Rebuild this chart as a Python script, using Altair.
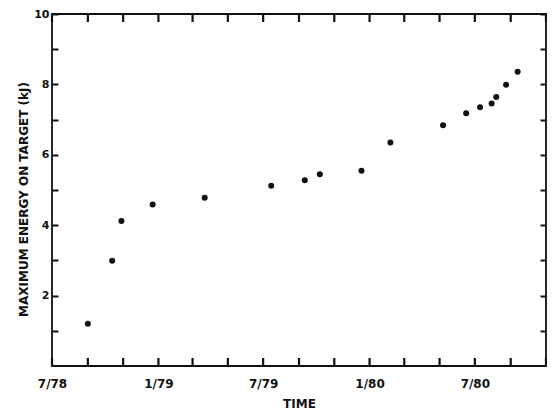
import altair as alt
import pandas as pd

# Data
dates = ["1978-09-01", "1978-10-13", "1978-10-29", "1978-12-22", "1979-03-22",
         "1979-07-15", "1979-09-11", "1979-10-07", "1979-12-18", "1980-02-06",
         "1980-05-07", "1980-06-16", "1980-07-10", "1980-07-30", "1980-08-07",
         "1980-08-24", "1980-09-13"]
energy = [1.20, 2.99, 4.12, 4.59, 4.78, 5.12, 5.28, 5.45, 5.55, 6.35,
          6.84, 7.18, 7.35, 7.46, 7.64, 7.99, 8.36]

x_tick_dates = ["1978-07-01", "1978-09-01", "1978-11-01", "1979-01-01", "1979-03-01",
                "1979-05-01", "1979-07-01", "1979-09-01", "1979-11-01", "1980-01-01",
                "1980-03-01", "1980-05-01", "1980-07-01", "1980-09-01", "1980-11-01"]
y_ticks = [1, 2, 3, 4, 5, 6, 7, 8, 9, 10]

df = pd.DataFrame({"date": dates, "energy": energy})
tick_df = pd.DataFrame({"tick": x_tick_dates})


def to_dt(s):
    y, m, d = (int(v) for v in s.split("-"))
    return alt.DateTime(year=y, month=m, date=d, utc=True)


x_vals = [to_dt(s) for s in x_tick_dates]
x_dom = [x_vals[0], x_vals[-1]]

W, H = 494, 352
TICK = 6
XTICK = 8
FONT = "DejaVu Sans"
INK = "#111111"

x_scale = alt.Scale(type="utc", domain=x_dom)
y_scale = alt.Scale(domain=[0, 10], nice=False, zero=False)

x_label_expr = ("utcmonth(datum.value) % 6 == 0 ? (utcmonth(datum.value) + 1) + '/' + "
                "substring(toString(utcyear(datum.value)), 2) : ''")

tick_axis = dict(grid=False, domain=False, labels=False, title=None, tickColor=INK,
                 tickWidth=2, tickSize=TICK)

base = alt.Chart(df)

# x ticks drawn as short inward rules at the tick dates (bottom and top edges)
xticks_bottom = alt.Chart(tick_df).mark_rule(color=INK, strokeWidth=2.2).encode(
    x=alt.X("tick:T", scale=x_scale, axis=None),
    y=alt.value(H), y2=alt.value(H - XTICK),
)
xticks_top = alt.Chart(tick_df).mark_rule(color=INK, strokeWidth=2.2).encode(
    x=alt.X("tick:T", scale=x_scale, axis=None),
    y=alt.value(0), y2=alt.value(XTICK),
)

# labelled axes (no ticks) + the visible points
points = base.mark_circle(size=36, color=INK, opacity=1).encode(
    x=alt.X("date:T", scale=x_scale, title="TIME",
            axis=alt.Axis(orient="bottom", values=x_vals, labelExpr=x_label_expr,
                          grid=False, domain=False, ticks=False,
                          labelFont=FONT, labelFontSize=12, labelFontWeight="bold",
                          labelColor=INK, labelPadding=12, labelFlush=False,
                          titleFont=FONT, titleFontSize=12, titleFontWeight="bold",
                          titleColor=INK, titleY=41, titleBaseline="alphabetic")),
    y=alt.Y("energy:Q", scale=y_scale, title="MAXIMUM ENERGY ON TARGET (kJ)",
            axis=alt.Axis(orient="left", values=y_ticks,
                          labelExpr="datum.value % 2 == 0 ? datum.label : ''",
                          grid=False, domain=False, ticks=False,
                          labelFont=FONT, labelFontSize=11, labelFontWeight="bold",
                          labelColor=INK, labelPadding=3,
                          titleFont=FONT, titleFontSize=12, titleFontWeight="bold",
                          titleColor=INK, titleX=-29, titleY=185, titleBaseline="middle")),
)

# inward y ticks on the left and right edges (axes mirrored inward)
yticks_left = base.mark_circle(opacity=0).encode(
    x=alt.X("date:T", scale=x_scale, axis=None),
    y=alt.Y("energy:Q", scale=y_scale,
            axis=alt.Axis(orient="right", offset=-W, values=y_ticks, **tick_axis)),
)
yticks_right = base.mark_circle(opacity=0).encode(
    x=alt.X("date:T", scale=x_scale, axis=None),
    y=alt.Y("energy:Q", scale=y_scale,
            axis=alt.Axis(orient="left", offset=-W, values=y_ticks, **tick_axis)),
)

chart = alt.layer(points, yticks_left, yticks_right, xticks_bottom, xticks_top).resolve_axis(
    x="independent", y="independent"
).properties(
    width=W, height=H,
    autosize=alt.AutoSizeParams(type="none"),
    padding={"left": 44, "top": 6, "right": 1, "bottom": 45},
    background="white",
).configure_view(stroke=INK, strokeWidth=1.8)

chart.save("out.html", embed_options={"renderer": "svg", "actions": False})
